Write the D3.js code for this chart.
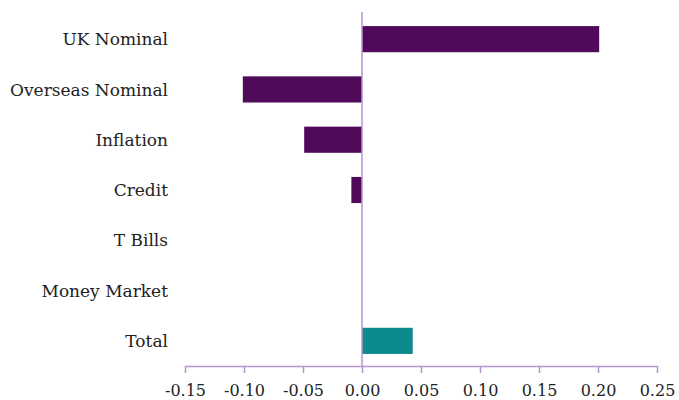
<!DOCTYPE html>
<html>
<head>
<meta charset="utf-8">
<script src="https://cdn.jsdelivr.net/npm/d3@7"></script>
<style>
  html, body { margin: 0; padding: 0; background: #fff; }
  svg text { font-family: "DejaVu Serif", "Liberation Serif", serif; fill: #222; }
</style>
</head>
<body>
<svg id="chart" width="679" height="400"></svg>
<script>
// Contribution by asset class
const categories = ["UK Nominal", "Overseas Nominal", "Inflation", "Credit", "T Bills", "Money Market", "Total"];
const values = [0.201, -0.101, -0.049, -0.009, 0, 0, 0.043];
const xTicks = [-0.15, -0.10, -0.05, 0.00, 0.05, 0.10, 0.15, 0.20, 0.25];

const barColor = "#4f0a5a";
const totalColor = "#0d8a8e";
const axisColor = "#b893d2";

const svg = d3.select("#chart");
const margin = { top: 14, right: 22, bottom: 34, left: 185 };
const width = 679, height = 400;

const x = d3.scaleLinear()
  .domain([-0.15, 0.25])
  .range([margin.left, width - margin.right]);

const y = d3.scaleBand()
  .domain(categories)
  .range([margin.top, height - margin.bottom])
  .paddingInner(0.48)
  .paddingOuter(0.24);

// bars
svg.append("g")
  .selectAll("rect")
  .data(categories.map((c, i) => ({ c, v: values[i] })))
  .join("rect")
  .attr("x", d => x(Math.min(0, d.v)))
  .attr("y", d => y(d.c))
  .attr("width", d => Math.abs(x(d.v) - x(0)))
  .attr("height", y.bandwidth())
  .attr("fill", d => d.c === "Total" ? totalColor : barColor);

// x axis
const xAxis = svg.append("g")
  .attr("transform", `translate(0,${height - margin.bottom})`)
  .call(d3.axisBottom(x).tickValues(xTicks).tickFormat(d3.format(".2f")).tickSize(7).tickSizeOuter(0));
xAxis.select(".domain").attr("stroke", axisColor).attr("stroke-width", 1.5);
xAxis.selectAll(".tick line").attr("stroke", axisColor).attr("stroke-width", 1.5);
xAxis.selectAll(".tick text")
  .attr("font-size", 16)
  .attr("y", 30)
  .attr("dy", null)
  .text(d => d3.format(".2f")(d).replace("−", "-"));

// zero line
svg.append("line")
  .attr("x1", x(0)).attr("x2", x(0))
  .attr("y1", margin.top - 2).attr("y2", height - margin.bottom)
  .attr("stroke", axisColor).attr("stroke-width", 1.5);

// category labels
svg.append("g")
  .selectAll("text")
  .data(categories)
  .join("text")
  .attr("x", 168)
  .attr("y", d => y(d) + y.bandwidth() / 2)
  .attr("dy", "0.36em")
  .attr("text-anchor", "end")
  .attr("font-size", 17)
  .text(d => d);
</script>
</body>
</html>
